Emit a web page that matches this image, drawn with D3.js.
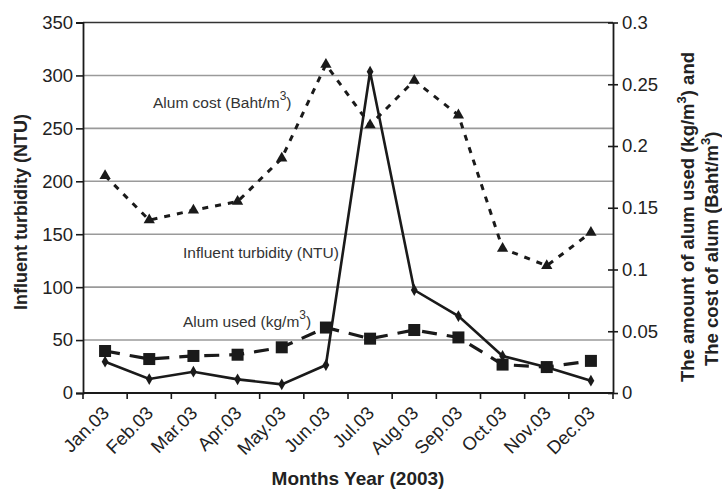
<!DOCTYPE html>
<html>
<head>
<meta charset="utf-8">
<script src="https://cdn.jsdelivr.net/npm/d3@7/dist/d3.min.js"></script>
<style>
  html, body { margin: 0; padding: 0; background: #fff; }
  svg { display: block; font-family: "Liberation Sans", Arial, sans-serif; }
</style>
</head>
<body>
<svg id="chart" width="722" height="489"></svg>
<script>
// Monthly water-treatment figures for 2003
const months = ["Jan.03", "Feb.03", "Mar.03", "Apr.03", "May.03", "Jun.03",
                "Jul.03", "Aug.03", "Sep.03", "Oct.03", "Nov.03", "Dec.03"];
// Influent turbidity (NTU), left axis
const turbidity = [29.6, 13.2, 20.1, 12.9, 8.2, 26.4, 303.5, 97.3, 72.7, 35, 24.3, 11.6];
// Alum used (kg/m3), right axis
const alumUsed = [0.034, 0.0275, 0.030, 0.031, 0.037, 0.053, 0.044, 0.051, 0.045, 0.023, 0.021, 0.026];
// Alum cost (Baht/m3), right axis
const alumCost = [0.176, 0.140, 0.148, 0.155, 0.190, 0.266, 0.217, 0.253, 0.225, 0.117, 0.103, 0.130];

const leftTicks = [0, 50, 100, 150, 200, 250, 300, 350];
const rightTicks = [0, 0.05, 0.1, 0.15, 0.2, 0.25, 0.3];

const svg = d3.select("#chart");
const plot = { left: 83, right: 613, top: 22.5, bottom: 393 };

const x = d3.scaleBand().domain(months).range([plot.left, plot.right]);
const yL = d3.scaleLinear().domain([0, 350]).range([plot.bottom, plot.top]);
const yR = d3.scaleLinear().domain([0, 0.3]).range([plot.bottom, plot.top]);
const cx = m => x(m) + x.bandwidth() / 2;

const ink = "#1a1a1a";
const tickFont = 18.5;

// horizontal gridlines at the left-axis ticks
svg.append("g")
  .selectAll("line")
  .data(leftTicks.filter(t => t > 0 && t < 350))
  .join("line")
  .attr("x1", plot.left).attr("x2", plot.right)
  .attr("y1", d => yL(d)).attr("y2", d => yL(d))
  .attr("stroke", "#9a9a9a").attr("stroke-width", 1.6);

// top frame line
svg.append("line")
  .attr("x1", plot.left).attr("x2", plot.right)
  .attr("y1", yL(350)).attr("y2", yL(350))
  .attr("stroke", "#333").attr("stroke-width", 1.6);

// left axis
const gL = svg.append("g")
  .attr("transform", `translate(${plot.left},0)`)
  .call(d3.axisLeft(yL).tickValues(leftTicks).tickSize(7).tickPadding(3).tickFormat(d3.format("d")));
gL.select(".domain").attr("stroke", ink).attr("stroke-width", 1.8);
gL.selectAll(".tick line").attr("stroke", ink).attr("stroke-width", 1.6);
gL.selectAll(".tick text").attr("font-size", tickFont).attr("fill", "#222")
  .attr("font-family", "Liberation Sans, Arial, sans-serif");

// right axis (ticks cross the axis line)
const gR = svg.append("g")
  .attr("transform", `translate(${plot.right},0)`)
  .call(d3.axisRight(yR).tickValues(rightTicks).tickSize(0).tickPadding(9)
    .tickFormat(d => d === 0 ? "0" : String(+d.toFixed(2))));
gR.select(".domain").attr("stroke", ink).attr("stroke-width", 1.8);
gR.selectAll(".tick").append("line")
  .attr("x1", -5).attr("x2", 5).attr("stroke", ink).attr("stroke-width", 1.6);
gR.selectAll(".tick text").attr("font-size", tickFont).attr("fill", "#222")
  .attr("font-family", "Liberation Sans, Arial, sans-serif");

// bottom axis: tick marks between categories, rotated month labels
const xBound = months.map(m => x(m)).concat([plot.right]);
const gB = svg.append("g");
gB.append("line")
  .attr("x1", plot.left).attr("x2", plot.right)
  .attr("y1", plot.bottom).attr("y2", plot.bottom)
  .attr("stroke", ink).attr("stroke-width", 1.8);
gB.selectAll("line.tk").data(xBound).join("line").attr("class", "tk")
  .attr("x1", d => d).attr("x2", d => d)
  .attr("y1", plot.bottom).attr("y2", plot.bottom + 6)
  .attr("stroke", ink).attr("stroke-width", 1.6);
gB.selectAll("text").data(months).join("text")
  .attr("transform", d => `translate(${cx(d) - 4},${plot.bottom + 12}) rotate(-45)`)
  .attr("text-anchor", "end")
  .attr("dy", "0.7em")
  .attr("font-size", tickFont).attr("fill", "#222")
  .text(d => d);

// series lines
const lineL = d3.line().x((d, i) => cx(months[i])).y(d => yL(d));
const lineR = d3.line().x((d, i) => cx(months[i])).y(d => yR(d));

svg.append("path").datum(alumCost)
  .attr("d", lineR).attr("fill", "none")
  .attr("stroke", ink).attr("stroke-width", 3)
  .attr("stroke-dasharray", "6 7");

svg.append("path").datum(alumUsed)
  .attr("d", lineR).attr("fill", "none")
  .attr("stroke", ink).attr("stroke-width", 3.2)
  .attr("stroke-dasharray", "15 10");

svg.append("path").datum(turbidity)
  .attr("d", lineL).attr("fill", "none")
  .attr("stroke", ink).attr("stroke-width", 2.6);

// markers
svg.append("g").selectAll("path").data(alumCost).join("path")
  .attr("transform", (d, i) => `translate(${cx(months[i])},${yR(d)})`)
  .attr("d", d3.symbol(d3.symbolTriangle, 55))
  .attr("fill", ink);

svg.append("g").selectAll("rect").data(alumUsed).join("rect")
  .attr("x", (d, i) => cx(months[i]) - 6).attr("y", d => yR(d) - 6)
  .attr("width", 12).attr("height", 12)
  .attr("fill", ink);

svg.append("g").selectAll("path").data(turbidity).join("path")
  .attr("transform", (d, i) => `translate(${cx(months[i])},${yL(d)})`)
  .attr("d", d3.symbol(d3.symbolDiamond, 40))
  .attr("fill", ink);

// in-plot series labels
function label(xp, yp, main, unit) {
  const t = svg.append("text").attr("x", xp).attr("y", yp)
    .attr("font-size", 15.5).attr("fill", "#333");
  t.append("tspan").text(main);
  if (unit) {
    t.append("tspan").text(unit);
    t.append("tspan").attr("dy", -8).attr("font-size", 12).text("3");
    t.append("tspan").attr("dy", 8).text(")");
  }
}
label(153, 108, "Alum cost ", "(Baht/m");
label(183, 258, "Influent turbidity (NTU)", null);
label(183, 327, "Alum used ", "(kg/m");

// axis titles
svg.append("text")
  .attr("transform", `translate(27,212) rotate(-90)`)
  .attr("text-anchor", "middle")
  .attr("font-size", 18).attr("font-weight", "bold").attr("fill", "#222")
  .text("Influent turbidity (NTU)");

svg.append("text")
  .attr("x", 358).attr("y", 485)
  .attr("text-anchor", "middle")
  .attr("font-size", 19).attr("font-weight", "bold").attr("fill", "#222")
  .text("Months Year (2003)");

function rightTitle(xp, yStart, parts) {
  const t = svg.append("text")
    .attr("transform", `translate(${xp},${yStart}) rotate(-90)`)
    .attr("text-anchor", "start")
    .attr("font-size", 18.5).attr("font-weight", "bold").attr("fill", "#222");
  parts.forEach(p => {
    const s = t.append("tspan").text(p.t);
    if (p.sup) s.attr("dy", -8).attr("font-size", 13);
    if (p.down) s.attr("dy", 8);
  });
}
rightTitle(694, 382, [{ t: "The amount of alum used (kg/m" }, { t: "3", sup: true }, { t: ") and", down: true }]);
rightTitle(718, 366, [{ t: "The cost of alum (Baht/m" }, { t: "3", sup: true }, { t: ")", down: true }]);
</script>
</body>
</html>
